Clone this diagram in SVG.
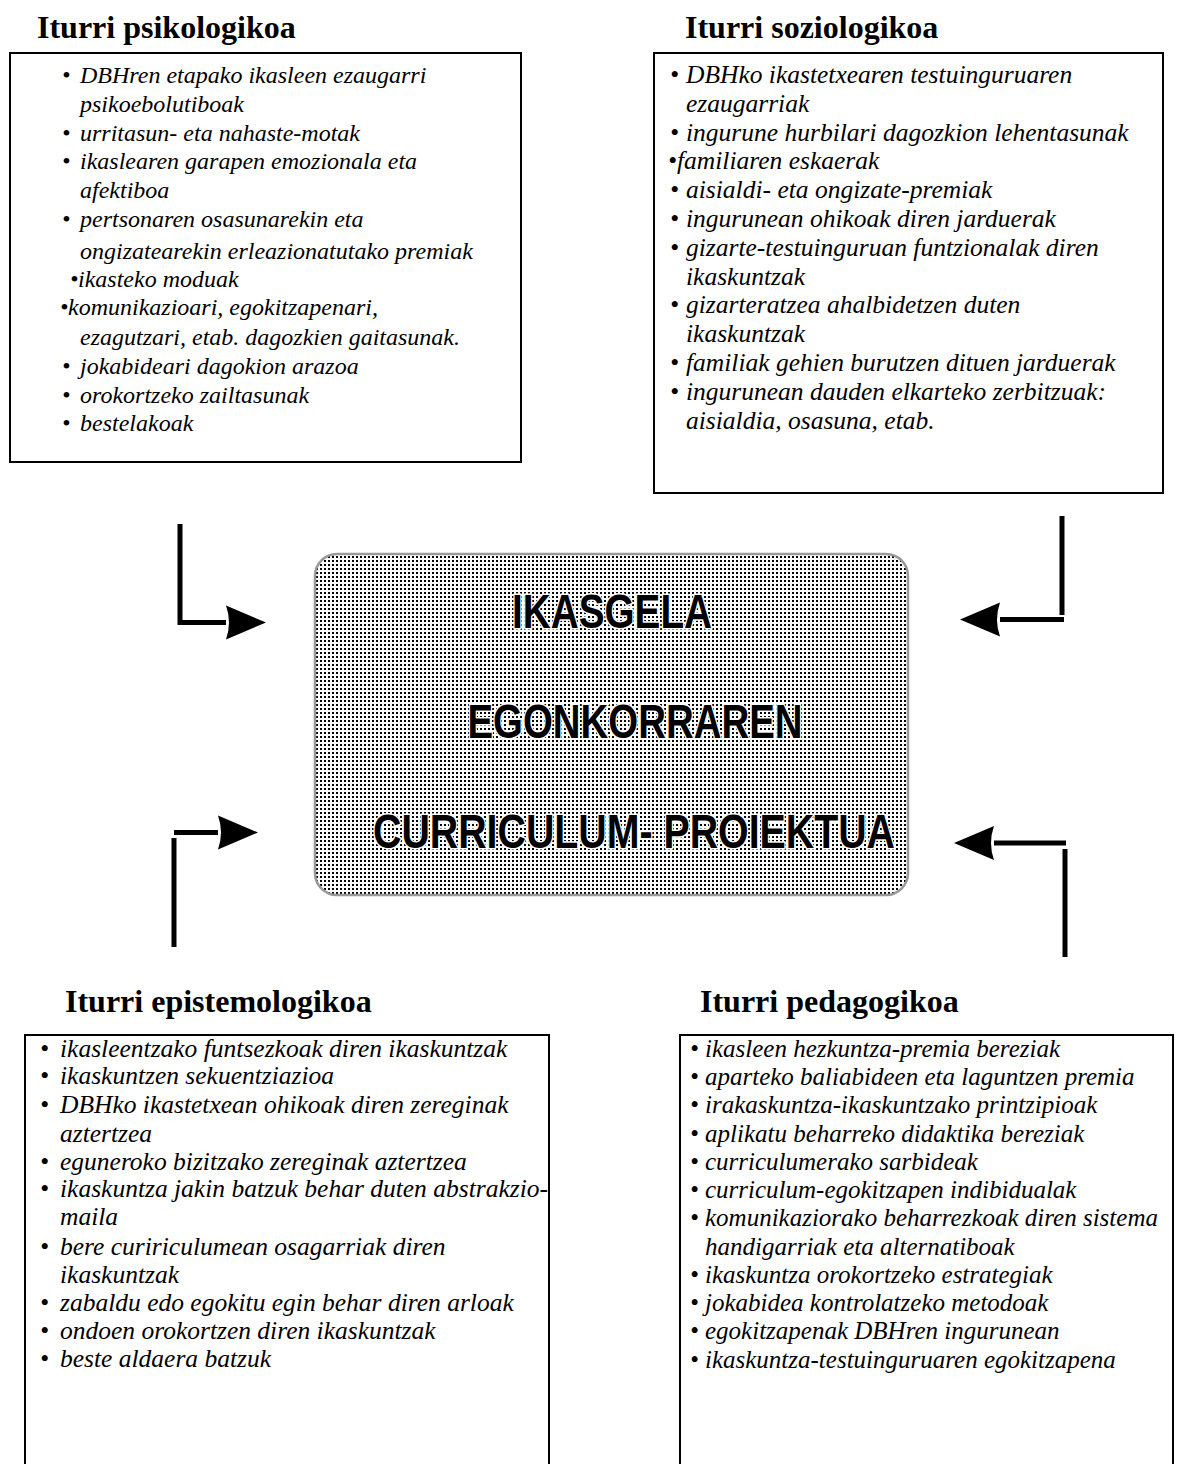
<svg xmlns="http://www.w3.org/2000/svg" width="1185" height="1464" viewBox="0 0 1185 1464">
<defs>
<pattern id="dots" width="4" height="4" patternUnits="userSpaceOnUse">
<rect width="4" height="4" fill="#fff"/>
<rect x="0" y="0" width="2" height="2" fill="#000"/>
</pattern>
<marker id="head" markerWidth="42" markerHeight="36" refX="0" refY="18" orient="auto" markerUnits="userSpaceOnUse">
<path d="M0,1 Q6,18 0,35 L40,18 Z" fill="#000"/>
</marker>
</defs>
<style>
.title{font-family:"Liberation Serif","Times New Roman",serif;font-weight:bold;font-size:32px;fill:#000}
.item{font-family:"Liberation Serif","Times New Roman",serif;font-style:italic;fill:#000}
.tl{font-size:24px}
.tr{font-size:25.5px}
.bl{font-size:25.5px}
.br{font-size:25px}
.box{fill:#fff;stroke:#000;stroke-width:2}
.center{font-family:"Liberation Sans",Arial,sans-serif;font-weight:bold;font-size:48px;fill:#000;stroke:#fff;stroke-width:3;paint-order:stroke;text-anchor:middle}
.conn{fill:none;stroke:#000;stroke-width:5}
</style>
<rect width="1185" height="1464" fill="#fff"/>

<g id="psikologikoa">
<text class="title" x="37" y="38">Iturri psikologikoa</text>
<rect class="box" x="10" y="53" width="511" height="409"/>
<g class="item tl">
<text y="83"><tspan x="62">•</tspan><tspan x="80">DBHren etapako ikasleen ezaugarri</tspan></text>
<text x="80" y="112">psikoebolutiboak</text>
<text y="141"><tspan x="62">•</tspan><tspan x="80">urritasun- eta nahaste-motak</tspan></text>
<text y="169"><tspan x="62">•</tspan><tspan x="80">ikaslearen garapen emozionala eta</tspan></text>
<text x="80" y="198">afektiboa</text>
<text y="227"><tspan x="62">•</tspan><tspan x="80">pertsonaren osasunarekin eta</tspan></text>
<text x="80" y="259">ongizatearekin erleazionatutako premiak</text>
<text y="287"><tspan x="70">•</tspan><tspan x="78">ikasteko moduak</tspan></text>
<text y="315"><tspan x="60">•</tspan><tspan x="68">komunikazioari, egokitzapenari,</tspan></text>
<text x="80" y="345">ezagutzari, etab. dagozkien gaitasunak.</text>
<text y="374"><tspan x="62">•</tspan><tspan x="80">jokabideari dagokion arazoa</tspan></text>
<text y="403"><tspan x="62">•</tspan><tspan x="80">orokortzeko zailtasunak</tspan></text>
<text y="431"><tspan x="62">•</tspan><tspan x="80">bestelakoak</tspan></text>
</g>
</g>

<g id="soziologikoa">
<text class="title" x="685" y="38">Iturri soziologikoa</text>
<rect class="box" x="654" y="53" width="509" height="440"/>
<g class="item tr">
<text y="83"><tspan x="670">•</tspan><tspan x="686">DBHko ikastetxearen testuinguruaren</tspan></text>
<text x="686" y="112">ezaugarriak</text>
<text y="141"><tspan x="670">•</tspan><tspan x="686">ingurune hurbilari dagozkion lehentasunak</tspan></text>
<text y="169"><tspan x="668">•</tspan><tspan x="677">familiaren eskaerak</tspan></text>
<text y="198"><tspan x="670">•</tspan><tspan x="686">aisialdi- eta ongizate-premiak</tspan></text>
<text y="227"><tspan x="670">•</tspan><tspan x="686">ingurunean ohikoak diren jarduerak</tspan></text>
<text y="256"><tspan x="670">•</tspan><tspan x="686">gizarte-testuinguruan funtzionalak diren</tspan></text>
<text x="686" y="285">ikaskuntzak</text>
<text y="313"><tspan x="670">•</tspan><tspan x="686">gizarteratzea ahalbidetzen duten</tspan></text>
<text x="686" y="342">ikaskuntzak</text>
<text y="371"><tspan x="670">•</tspan><tspan x="686">familiak gehien burutzen dituen jarduerak</tspan></text>
<text y="400"><tspan x="670">•</tspan><tspan x="686">ingurunean dauden elkarteko zerbitzuak:</tspan></text>
<text x="686" y="429">aisialdia, osasuna, etab.</text>
</g>
</g>

<g id="curriculum">
<rect x="315" y="554" width="593" height="341" rx="22" ry="22" fill="url(#dots)" stroke="#999" stroke-width="2.5"/>
<text class="center" x="612" y="628" textLength="200" lengthAdjust="spacingAndGlyphs">IKASGELA</text>
<text class="center" x="635" y="738" textLength="335" lengthAdjust="spacingAndGlyphs">EGONKORRAREN</text>
<text class="center" x="634" y="848" textLength="522" lengthAdjust="spacingAndGlyphs">CURRICULUM- PROIEKTUA</text>
</g>

<g id="epistemologikoa">
<text class="title" x="65" y="1012">Iturri epistemologikoa</text>
<rect class="box" x="25" y="1035" width="524" height="440"/>
<g class="item bl">
<text y="1057"><tspan x="40">•</tspan><tspan x="60">ikasleentzako funtsezkoak diren ikaskuntzak</tspan></text>
<text y="1084"><tspan x="40">•</tspan><tspan x="60">ikaskuntzen sekuentziazioa</tspan></text>
<text y="1113"><tspan x="40">•</tspan><tspan x="60">DBHko ikastetxean ohikoak diren zereginak</tspan></text>
<text x="60" y="1142">aztertzea</text>
<text y="1170"><tspan x="40">•</tspan><tspan x="60">eguneroko bizitzako zereginak aztertzea</tspan></text>
<text y="1197"><tspan x="40">•</tspan><tspan x="60">ikaskuntza jakin batzuk behar duten abstrakzio-</tspan></text>
<text x="60" y="1225">maila</text>
<text y="1255"><tspan x="40">•</tspan><tspan x="60">bere cuririculumean osagarriak diren</tspan></text>
<text x="60" y="1283">ikaskuntzak</text>
<text y="1311"><tspan x="40">•</tspan><tspan x="60">zabaldu edo egokitu egin behar diren arloak</tspan></text>
<text y="1339"><tspan x="40">•</tspan><tspan x="60">ondoen orokortzen diren ikaskuntzak</tspan></text>
<text y="1367"><tspan x="40">•</tspan><tspan x="60">beste aldaera batzuk</tspan></text>
</g>
</g>

<g id="pedagogikoa">
<text class="title" x="700" y="1012">Iturri pedagogikoa</text>
<rect class="box" x="680" y="1035" width="493" height="440"/>
<g class="item br">
<text y="1057"><tspan x="690">•</tspan><tspan x="705">ikasleen hezkuntza-premia bereziak</tspan></text>
<text y="1085"><tspan x="690">•</tspan><tspan x="705">aparteko baliabideen eta laguntzen premia</tspan></text>
<text y="1113"><tspan x="690">•</tspan><tspan x="705">irakaskuntza-ikaskuntzako printzipioak</tspan></text>
<text y="1142"><tspan x="690">•</tspan><tspan x="705">aplikatu beharreko didaktika bereziak</tspan></text>
<text y="1170"><tspan x="690">•</tspan><tspan x="705">curriculumerako sarbideak</tspan></text>
<text y="1198"><tspan x="690">•</tspan><tspan x="705">curriculum-egokitzapen indibidualak</tspan></text>
<text y="1226"><tspan x="690">•</tspan><tspan x="705">komunikaziorako beharrezkoak diren sistema</tspan></text>
<text x="705" y="1255">handigarriak eta alternatiboak</text>
<text y="1283"><tspan x="690">•</tspan><tspan x="705">ikaskuntza orokortzeko estrategiak</tspan></text>
<text y="1311"><tspan x="690">•</tspan><tspan x="705">jokabidea kontrolatzeko metodoak</tspan></text>
<text y="1339"><tspan x="690">•</tspan><tspan x="705">egokitzapenak DBHren ingurunean</tspan></text>
<text y="1368"><tspan x="690">•</tspan><tspan x="705">ikaskuntza-testuinguruaren egokitzapena</tspan></text>
</g>
</g>

<g id="connectors">
<path class="conn" d="M180,524 V622.5 H226" marker-end="url(#head)"/>
<path class="conn" d="M1062,516 V615"/>
<path class="conn" d="M1064,619.5 H1000" marker-end="url(#head)"/>
<path class="conn" d="M174,832.5 H218" marker-end="url(#head)"/>
<path class="conn" d="M174,838 V947"/>
<path class="conn" d="M1066,843 H994" marker-end="url(#head)"/>
<path class="conn" d="M1065,849 V957"/>
</g>
</svg>
